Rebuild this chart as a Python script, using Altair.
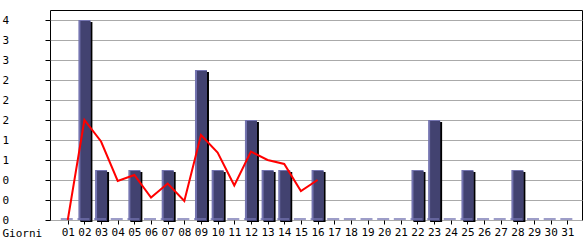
import altair as alt
import pandas as pd

days = list(range(1, 32))
visits = [0, 4, 1, 0, 1, 0, 1, 0, 3, 1, 0, 2, 1, 1, 0, 1,
          0, 0, 0, 0, 0, 1, 2, 0, 1, 0, 0, 1, 0, 0, 0]
avg_days = list(range(1, 17))
avg_vals = [0, 2.0, 1.57, 0.78, 0.9, 0.45, 0.73, 0.38, 1.7, 1.35, 0.69,
            1.37, 1.2, 1.12, 0.58, 0.8]
y_ticks = [0, 0.4, 0.8, 1.2, 1.6, 2.0, 2.4, 2.8, 3.2, 3.6, 4.0]

FONT = "DejaVu Sans Mono"
DARK = "#424270"
LIGHT = "#7474b0"

bars_df = pd.DataFrame({"day": days, "v": visits})
nz_df = bars_df[bars_df["v"] > 0]
zero_df = pd.DataFrame({"day": days, "v": [0] * len(days)})
line_df = pd.DataFrame({"day": avg_days, "v": avg_vals})

x_enc = alt.X(
    "day:Q",
    scale=alt.Scale(domain=[0.234, 31.58], nice=False, zero=False),
    axis=alt.Axis(
        values=days, format="02d", grid=False, domain=False,
        tickSize=4, tickColor="black", labelPadding=2,
        labelFont=FONT, labelFontSize=11, labelColor="black",
        labelFlush=False, labelOverlap=False,
        title="Giorni", titleFont=FONT, titleFontSize=11,
        titleFontWeight="normal", titleColor="black",
        titleX=-48, titleY=7, titleAlign="left", titleBaseline="top",
    ),
)
y_enc = alt.Y(
    "v:Q",
    scale=alt.Scale(domain=[0, 4.2], nice=False),
    axis=alt.Axis(
        values=y_ticks, labelExpr="floor(datum.value)",
        grid=True, gridColor="#aaaaaa", domain=False,
        tickSize=5, tickColor="black",
        labelAlign="left", labelPadding=43,
        labelFont=FONT, labelFontSize=11, labelColor="black",
        title=None,
    ),
)

base_ticks = alt.Chart(zero_df).mark_tick(
    orient="horizontal", size=12, thickness=2, color=LIGHT, yOffset=-1, xOffset=-1
).encode(x=x_enc, y=y_enc)

shadow = alt.Chart(nz_df).mark_bar(size=12, color="black", xOffset=2, yOffset=2).encode(x=x_enc, y=y_enc)
light = alt.Chart(nz_df).mark_bar(size=12, color=LIGHT).encode(x=x_enc, y=y_enc)
body = alt.Chart(nz_df).mark_bar(size=10, color=DARK, xOffset=1, yOffset=1).encode(x=x_enc, y=y_enc)
line = alt.Chart(line_df).mark_line(color="#ff0000", strokeWidth=2).encode(x=x_enc, y=y_enc)

chart = alt.layer(shadow, light, body, base_ticks, line).properties(
    width=532, height=210,
    autosize=alt.AutoSizeParams(type="none"),
    padding={"left": 50, "top": 10, "right": 3, "bottom": 20},
    background="white",
).configure_view(stroke="black", strokeWidth=1)

chart.save("out.html", embed_options={"renderer": "svg", "actions": False})
